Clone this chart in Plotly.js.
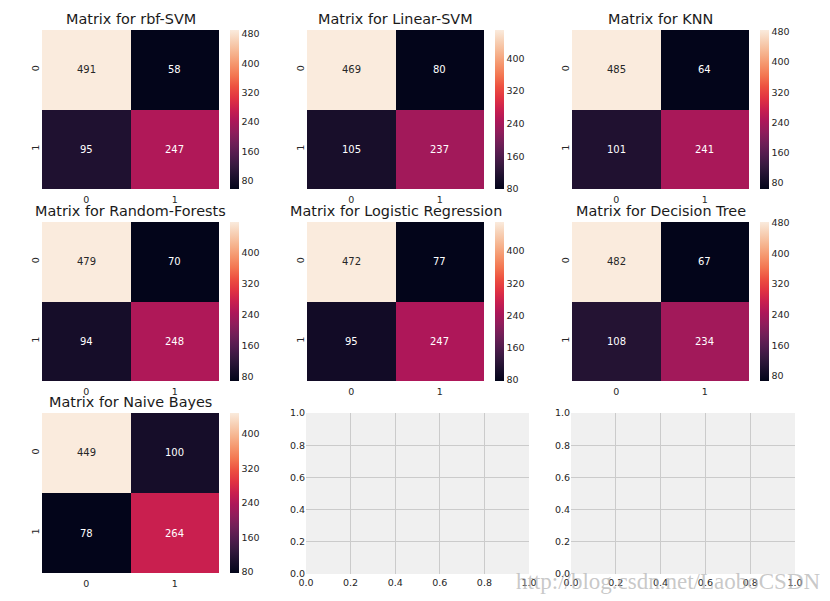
<!DOCTYPE html>
<html>
<head>
<meta charset="utf-8">
<script src="https://cdn.plot.ly/plotly-3.0.1.min.js"></script>
<style>html,body{margin:0;padding:0;background:#fff;}#chart{width:830px;height:601px;}</style>
</head>
<body>
<div id="chart"></div>
<script>
// ---- data ----
const classLabels = ['0', '1'];
const modelNames = ['rbf-SVM', 'Linear-SVM', 'KNN', 'Random-Forests', 'Logistic Regression', 'Decision Tree', 'Naive Bayes'];
const cmRbfSvm = [[491, 58], [95, 247]];
const cmLinearSvm = [[469, 80], [105, 237]];
const cmKnn = [[485, 64], [101, 241]];
const cmRandomForests = [[479, 70], [94, 248]];
const cmLogistic = [[472, 77], [95, 247]];
const cmDecisionTree = [[482, 67], [108, 234]];
const cmNaiveBayes = [[449, 100], [78, 264]];
const matrices = [cmRbfSvm, cmLinearSvm, cmKnn, cmRandomForests, cmLogistic, cmDecisionTree, cmNaiveBayes];
const emptyTicks = [0, 0.2, 0.4, 0.6, 0.8, 1.0];
const watermark = 'http://blog.csdn.net/LaoboCSDN';

// ---- layout geometry (pixels) ----
const W = 830, H = 601;
const colX = [[42, 219], [307, 484], [572, 749]];
const emptyX = [[306, 529], [571, 795]];
const rowY = [[30, 189], [222, 381], [413, 573]];
const cbX = [230, 495, 760];

const rocket = [
  [0.0, '#03051a'], [0.071, '#1a0f2c'], [0.143, '#35193e'], [0.214, '#521c4e'],
  [0.286, '#701f57'], [0.357, '#8f1d5b'], [0.429, '#ad1759'], [0.5, '#c91f4f'],
  [0.571, '#e13342'], [0.643, '#ed5040'], [0.714, '#f37651'], [0.786, '#f5966d'],
  [0.857, '#f6b48f'], [0.929, '#f7d0b5'], [1.0, '#faebdd']
];

const fx = p => p / W;
const fy = p => 1 - p / H;
const font = 'DejaVu Sans, sans-serif';

const traces = [];
const layout = {
  width: W, height: H, autosize: false,
  margin: {l: 0, r: 0, t: 0, b: 0, pad: 0},
  paper_bgcolor: '#ffffff', plot_bgcolor: 'rgba(0,0,0,0)',
  showlegend: false,
  font: {family: font, color: '#262626'},
  annotations: [], shapes: []
};

matrices.forEach((m, i) => {
  const r = Math.floor(i / 3), c = i % 3;
  const n = i + 1;
  const xa = 'xaxis' + (n === 1 ? '' : n), ya = 'yaxis' + (n === 1 ? '' : n);
  const xr = 'x' + (n === 1 ? '' : n), yr = 'y' + (n === 1 ? '' : n);
  const flat = m.flat();
  const zmin = Math.min(...flat), zmax = Math.max(...flat);
  traces.push({
    type: 'heatmap', z: m, x: [0, 1], y: [0, 1], xaxis: xr, yaxis: yr,
    colorscale: rocket, zmin: zmin, zmax: zmax, hoverinfo: 'skip',
    xgap: 0, ygap: 0,
    colorbar: {
      x: fx(cbX[c]), xanchor: 'left', xpad: 0, ypad: 0,
      y: fy((rowY[r][0] + rowY[r][1]) / 2), yanchor: 'middle',
      len: (rowY[r][1] - rowY[r][0]) / H, lenmode: 'fraction',
      thickness: 9, thicknessmode: 'pixels', outlinewidth: 0,
      tickmode: 'linear', tick0: 0, dtick: 80, ticks: '',
      tickfont: {family: font, size: 9.5, color: '#262626'}
    }
  });
  layout[xa] = {
    domain: [fx(colX[c][0]), fx(colX[c][1])], anchor: yr,
    range: [-0.5, 1.5], tickmode: 'array', tickvals: [0, 1], ticktext: classLabels,
    showgrid: false, zeroline: false, showline: false, ticks: '', fixedrange: true,
    ticklabelstandoff: 3,
    tickfont: {family: font, size: 9.5, color: '#262626'}
  };
  layout[ya] = {
    domain: [fy(rowY[r][1]), fy(rowY[r][0])], anchor: xr,
    range: [1.5, -0.5], tickmode: 'array', tickvals: [0, 1], ticktext: classLabels,
    tickangle: -90, showgrid: false, zeroline: false, showline: false, ticks: '', fixedrange: true,
    tickfont: {family: font, size: 9.5, color: '#262626'}
  };
  // cell values
  m.forEach((row, yi) => row.forEach((v, xi) => {
    const t = (v - zmin) / (zmax - zmin);
    layout.annotations.push({
      x: xi, y: yi, xref: xr, yref: yr, text: String(v), showarrow: false,
      font: {family: font, size: 10, color: t > 0.8 ? '#262626' : '#ffffff'}
    });
  }));
  // title
  layout.annotations.push({
    x: fx((colX[c][0] + colX[c][1]) / 2), y: fy(rowY[r][0] - 11), xref: 'paper', yref: 'paper',
    xanchor: 'center', yanchor: 'middle', showarrow: false,
    text: 'Matrix for ' + modelNames[i],
    font: {family: font, size: 14.4, color: '#1a1a1a'}
  });
});

// empty axes (8, 9)
[0, 1].forEach(k => {
  const n = 8 + k;
  const xr = 'x' + n, yr = 'y' + n;
  traces.push({type: 'scatter', x: [], y: [], xaxis: xr, yaxis: yr, hoverinfo: 'skip'});
  layout['xaxis' + n] = {
    domain: [fx(emptyX[k][0]), fx(emptyX[k][1])], anchor: yr, range: [0, 1],
    tickmode: 'array', tickvals: emptyTicks, ticktext: emptyTicks.map(v => v.toFixed(1)),
    showgrid: true, gridcolor: '#cbcbcb', gridwidth: 1, zeroline: false, showline: false,
    ticks: '', fixedrange: true, ticklabelstandoff: 1,
    tickfont: {family: font, size: 9.5, color: '#262626'}
  };
  layout['yaxis' + n] = {
    domain: [fy(rowY[2][1] + 1), fy(rowY[2][0])], anchor: xr, range: [0, 1],
    tickmode: 'array', tickvals: emptyTicks, ticktext: emptyTicks.map(v => v.toFixed(1)),
    showgrid: true, gridcolor: '#cbcbcb', gridwidth: 1, zeroline: false, showline: false,
    ticks: '', fixedrange: true, tickfont: {family: font, size: 9.5, color: '#262626'}
  };
  layout.shapes.push({
    type: 'rect', xref: xr + ' domain', yref: yr + ' domain', x0: 0, x1: 1, y0: 0, y1: 1,
    fillcolor: '#f0f0f0', line: {width: 0}, layer: 'below'
  });
});

// watermark
layout.annotations.push({
  x: fx(668), y: fy(581), xref: 'paper', yref: 'paper', xanchor: 'center', yanchor: 'middle',
  showarrow: false, text: watermark,
  font: {family: 'Liberation Serif, DejaVu Serif, serif', size: 23, color: 'rgba(170,170,170,0.65)'}
});

Plotly.newPlot('chart', traces, layout, {staticPlot: true, displayModeBar: false});
</script>
</body>
</html>
